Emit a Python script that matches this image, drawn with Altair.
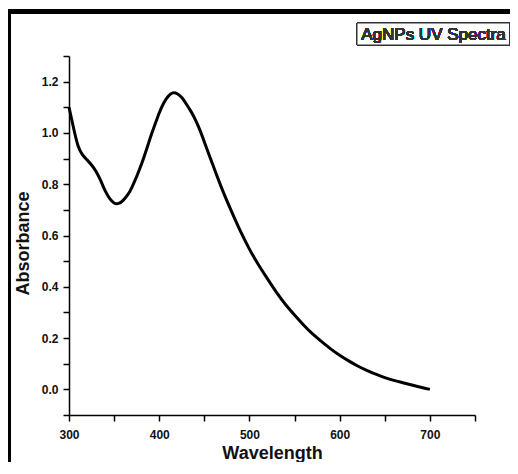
import altair as alt
import pandas as pd

wavelength = [300, 305, 310, 315, 320, 325, 330, 335, 340, 345, 350, 355, 360, 365, 370,
              380, 390, 395, 400, 405, 410, 415, 420, 425, 430, 435, 440, 445, 450, 460,
              470, 480, 490, 500, 510, 520, 530, 540, 550, 560, 570, 580, 590, 600, 610,
              620, 630, 640, 650, 660, 670, 680, 690, 700]
absorbance = [1.10, 1.02, 0.95, 0.915, 0.895, 0.875, 0.85, 0.815, 0.775, 0.745, 0.727, 0.725,
              0.737, 0.758, 0.79, 0.875, 0.98, 1.03, 1.078, 1.117, 1.143, 1.156, 1.153, 1.138,
              1.113, 1.085, 1.052, 1.012, 0.965, 0.87, 0.778, 0.695, 0.617, 0.547, 0.486,
              0.431, 0.378, 0.331, 0.29, 0.251, 0.216, 0.186, 0.158, 0.133, 0.111, 0.091,
              0.074, 0.059, 0.046, 0.035, 0.026, 0.017, 0.008, 0.0]

x_ticks = [300, 350, 400, 450, 500, 550, 600, 650, 700, 750]
y_ticks = [-0.1, 0.0, 0.1, 0.2, 0.3, 0.4, 0.5, 0.6, 0.7, 0.8, 0.9, 1.0, 1.1, 1.2, 1.3]
title_text = "AgNPs UV Spectra"

df = pd.DataFrame({"wl": wavelength, "abs": absorbance})

W, H = 406, 359
PADL, PADT, PADR, PADB = 61, 48, 35, 47

line = alt.Chart(df).mark_line(color="black", strokeWidth=3, interpolate="natural").encode(
    x=alt.X("wl:Q", scale=alt.Scale(domain=[300, 750], nice=False, zero=False),
            axis=alt.Axis(values=x_ticks, title="Wavelength",
                          labelExpr="datum.value % 100 == 0 ? datum.value : ''",
                          labelFlush=False,
                          titleX=W / 2, titleY=38, titleBaseline="middle",
                          titleAlign="center", labelPadding=8)),
    y=alt.Y("abs:Q", scale=alt.Scale(domain=[-0.1, 1.3], nice=False, zero=False),
            axis=alt.Axis(values=y_ticks, title="Absorbance",
                          labelExpr="(round(datum.value*10) % 2 == 0 && datum.value >= 0) ? format(datum.value, '.1f') : ''",
                          labelFlush=False,
                          titleX=-46, titleY=187, titleAngle=-90, titleBaseline="middle",
                          titleAlign="center", labelPadding=5)),
)

# outer frame (decorative)
frame_top = alt.Chart(df).mark_rule(color="black", strokeWidth=4).encode(
    x=alt.value(-PADL), x2=alt.value(W + PADR), y=alt.value(-44.5)
)
frame_left = alt.Chart(df).mark_rule(color="black", strokeWidth=4).encode(
    x=alt.value(-PADL + 0.5), y=alt.value(-46.5), y2=alt.value(H + PADB)
)

box = alt.Chart(df).mark_rect(fill="white", stroke="#333333", strokeWidth=1).encode(
    x=alt.value(288), x2=alt.value(440.5), y=alt.value(-33), y2=alt.value(-11)
)
box_text = alt.Chart(df).mark_text(font="Liberation Sans", fontSize=17, fontWeight="normal",
                                   color="#333333", align="center", baseline="middle").encode(
    x=alt.value(364.5), y=alt.value(-21.5), text=alt.value(title_text)
)

chart = alt.layer(line, frame_top, frame_left, box, box_text).properties(
    width=W, height=H,
    autosize=alt.AutoSizeParams(type="none"),
    padding={"left": PADL, "top": PADT, "right": PADR, "bottom": PADB},
    background="white",
).configure_view(stroke=None).configure_axis(
    grid=False,
    domainColor="black", domainWidth=1.5,
    tickColor="black", tickWidth=1.5, tickSize=6,
    labelFont="Liberation Sans", labelFontWeight="bold", labelFontSize=12, labelColor="#111111",
    titleFont="Liberation Sans", titleFontWeight="bold", titleFontSize=18, titleColor="#111111",
)

chart.save("out.html", embed_options={"renderer": "svg", "actions": False})
